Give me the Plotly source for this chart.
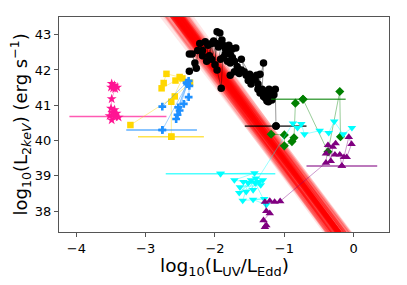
import plotly.graph_objects as go

# ---------------- data ----------------
# red model band: y = slope*(x+2) + y_at_m2
band_slope = [-2.64, -2.58, -2.70, -2.60, -2.68, -2.54, -2.74, -2.64, -2.58, -2.70,
              -2.62, -2.66, -2.56, -2.72, -2.60, -2.68, -2.64, -2.58, -2.72, -2.62,
              -2.50, -2.80, -2.64, -2.66, -2.58, -2.70, -2.62, -2.64, -2.54, -2.76,
              -2.62, -2.66, -2.60, -2.68, -2.64, -2.56, -2.72, -2.64, -2.60, -2.68]
band_y0 = [42.10, 42.04, 42.16, 41.98, 42.22, 41.92, 42.28, 41.86, 42.34, 41.80,
           42.08, 42.12, 42.02, 42.18, 41.96, 42.24, 42.14, 42.06, 41.94, 42.20,
           41.70, 42.44, 42.52, 41.62, 42.40, 41.76, 42.11, 42.00, 41.55, 42.60,
           42.30, 41.90, 42.26, 41.84, 42.36, 41.74, 42.42, 41.66, 42.48, 42.07]
band_opacity = [0.5, 0.5, 0.5, 0.5, 0.45, 0.4, 0.4, 0.35, 0.35, 0.3,
                0.5, 0.5, 0.5, 0.5, 0.5, 0.45, 0.5, 0.5, 0.45, 0.45,
                0.15, 0.15, 0.12, 0.12, 0.2, 0.25, 0.5, 0.5, 0.1, 0.1,
                0.35, 0.45, 0.4, 0.35, 0.25, 0.25, 0.2, 0.2, 0.15, 0.5]

pink_x = [-3.49, -3.45, -3.41, -3.47, -3.50, -3.44, -3.49, -3.50, -3.45, -3.48, -3.42, -3.52, -3.39, -3.49, -3.45]
pink_y = [41.61, 41.56, 41.51, 41.48, 41.51, 41.47, 41.18, 40.91, 40.87, 40.79, 40.77, 40.70, 40.66, 40.58, 40.68]

yellow_x = [-3.22, -2.58, -2.36, -2.51, -2.70, -2.74, -2.77, -2.57, -2.47, -2.63, -2.63]
yellow_y = [40.44, 41.25, 41.64, 41.80, 41.89, 41.63, 41.48, 41.70, 41.76, 41.10, 40.11]

blue_x = [-2.76, -2.41, -2.53, -2.38, -2.37, -2.38, -2.45, -2.51, -2.54, -2.56, -2.40, -2.76]
blue_y = [40.96, 41.64, 40.94, 41.69, 41.55, 41.23, 41.04, 40.85, 40.73, 40.61, 41.60, 40.30]

black_x = [-2.37, -2.33, -2.29, -2.37, -2.27, -2.25, -2.22, -2.18, -2.14, -2.18, -2.10, -2.12,
           -2.05, -2.08, -2.02, -2.05, -1.98, -2.00, -1.97, -1.93, -1.95, -1.90, -1.97, -1.91,
           -1.88, -1.92, -1.85, -1.88, -1.82, -1.85, -1.80, -1.82, -1.78, -1.75, -1.81, -1.70,
           -1.78, -1.72, -1.75, -1.68, -1.72, -1.65, -1.62, -1.78, -1.58, -1.55, -1.62, -1.50,
           -1.52, -1.45, -1.48, -1.42, -1.38, -1.40, -1.35, -1.38, -1.30, -1.32, -1.28, -1.35,
           -1.25, -1.30, -1.22, -1.27, -1.20, -1.23, -1.18, -1.20, -1.15, -1.25, -1.13, -1.12]
black_y = [42.45, 42.45, 42.20, 41.96, 42.05, 42.55, 42.75, 42.40, 42.80, 42.55, 42.70, 42.25,
           42.75, 42.40, 42.82, 42.30, 42.75, 42.15, 43.08, 43.05, 42.65, 42.85, 42.00, 41.48,
           42.70, 42.30, 42.60, 42.35, 42.55, 42.45, 42.70, 42.25, 42.45, 42.60, 42.62, 42.62,
           42.20, 42.25, 42.35, 42.10, 41.95, 41.90, 42.00, 41.85, 41.95, 41.85, 42.30, 41.88,
           41.70, 41.78, 41.60, 41.72, 41.60, 41.85, 41.88, 41.45, 42.20, 41.45, 41.40, 41.35,
           41.30, 41.25, 41.45, 41.20, 41.25, 41.10, 41.15, 41.35, 41.30, 41.12, 41.45, 40.41]

green_x = [-1.19, -1.00, -1.00, -0.89, -0.86, -0.84, -0.73, -0.37, -0.20, -0.19]
green_y = [40.18, 40.16, 39.85, 39.97, 40.08, 41.06, 41.17, 39.68, 41.39, 40.11]

cyan_x = [-1.92, -1.43, -1.72, -1.59, -1.34, -1.64, -1.31, -1.48, -1.45, -1.36, -1.55, -1.41,
          -1.65, -1.52, -1.60, -1.29, -1.45, -1.26, -1.42,
          -0.875, -0.81, -0.755, -0.71, -0.49, -0.36, -0.28, -0.15, -0.025]
cyan_y = [39.06, 39.08, 38.88, 38.83, 38.74, 38.68, 38.88, 38.88, 38.60, 38.83, 38.55, 38.93,
          38.52, 38.80, 38.30, 38.35, 38.33, 38.18, 38.80,
          40.49, 40.36, 40.47, 40.18, 40.28, 40.22, 40.54, 40.18, 40.36]

purple_x = [-1.28, -1.26, -1.30, -1.21, -1.26, -1.28, -1.21, -1.14, -1.06,
            -0.40, -0.37, -0.33, -0.30, -0.26, -0.40, -0.27, -0.20, -0.17, -0.14, -0.07, -0.03, -0.10]
purple_y = [37.55, 37.60, 37.74, 37.94, 38.00, 38.26, 38.29, 38.26, 38.28,
            39.37, 39.87, 39.42, 39.82, 39.92, 39.63, 39.60, 39.60, 39.28, 39.53, 40.10, 39.90, 39.53]

# mean points with horizontal error bars
err_names = ["pink", "yellow", "blue", "black", "green", "cyan", "purple"]
err_x = [-3.45, -2.63, -2.76, -1.12, -0.73, -1.92, -0.17]
err_y = [40.68, 40.11, 40.30, 40.41, 41.17, 39.06, 39.28]
err_minus = [0.65, 0.48, 0.52, 0.45, 0.46, 0.79, 0.51]
err_plus = [0.75, 0.47, 0.50, 0.44, 0.615, 0.79, 0.51]

x_ticks = [-4, -3, -2, -1, 0]
y_ticks = [38, 39, 40, 41, 42, 43]
XMIN, XMAX = -4.25, 0.51
YMIN, YMAX = 37.41, 43.5

x_title = "log<sub>10</sub>(L<sub>UV</sub>/L<sub>Edd</sub>)"
y_title = "log<sub>10</sub>(L<sub>2<i>keV</i></sub>) (erg s<sup>\u22121</sup>)"

# ---------------- figure ----------------
fig = go.Figure()

for m, y0, op in zip(band_slope, band_y0, band_opacity):
    fig.add_trace(go.Scatter(
        x=[XMIN, XMAX], y=[m * (XMIN + 2) + y0, m * (XMAX + 2) + y0],
        mode="lines", line=dict(color="rgba(255,0,0,%.2f)" % op, width=3),
        hoverinfo="skip", showlegend=False))

series = [
    ("pink", pink_x, pink_y, "#ff1493", "star", 7.5),
    ("yellow", yellow_x, yellow_y, "#ffd700", "square", 6.5),
    ("blue", blue_x, blue_y, "#1e90ff", "cross", 6.5),
    ("black", black_x, black_y, "#000000", "circle", 7.5),
    ("green", green_x, green_y, "#008000", "diamond", 7),
    ("cyan", cyan_x, cyan_y, "#00ffff", "triangle-down", 7.5),
    ("purple", purple_x, purple_y, "#800080", "triangle-up", 7.5),
]

def rgba(hexc, a):
    h = hexc.lstrip("#")
    r, g, b = int(h[0:2], 16), int(h[2:4], 16), int(h[4:6], 16)
    return "rgba(%d,%d,%d,%.2f)" % (r, g, b, a)

for name, xs, ys, col, sym, sz in series:
    i = err_names.index(name)
    fig.add_trace(go.Scatter(
        x=[err_x[i]], y=[err_y[i]], mode="markers",
        marker=dict(color=col, symbol=sym, size=sz, line=dict(width=0)),
        error_x=dict(type="data", symmetric=False, array=[err_plus[i]],
                     arrayminus=[err_minus[i]], color=rgba(col, 0.7),
                     thickness=1.6, width=0),
        showlegend=False, hoverinfo="skip"))
    fig.add_trace(go.Scatter(
        x=xs, y=ys, mode="lines+markers",
        line=dict(color=rgba(col, 0.45), width=0.9),
        marker=dict(color=col, symbol=sym, size=sz, line=dict(width=0)),
        showlegend=False, hoverinfo="skip"))

axis_common = dict(showline=True, mirror=True, linecolor="#555555", linewidth=1,
                   ticks="outside", ticklen=4, tickcolor="#555555", tickwidth=1,
                   showgrid=False, zeroline=False, automargin=False,
                   tickfont=dict(family="DejaVu Sans", size=13, color="black"))

fig.update_layout(
    width=407, height=285,
    margin=dict(l=59, r=18, t=17, b=53),
    paper_bgcolor="white", plot_bgcolor="white",
    xaxis=dict(range=[XMIN, XMAX], tickvals=x_ticks,
               ticktext=["\u2212" + str(abs(v)) if v < 0 else str(v) for v in x_ticks],
               **axis_common),
    yaxis=dict(range=[YMIN, YMAX], tickvals=y_ticks, **axis_common),
    annotations=[
        dict(text=x_title, xref="paper", yref="paper", x=0.5, y=0,
             xanchor="center", yanchor="top", yshift=-21, showarrow=False,
             font=dict(family="DejaVu Sans", size=18.5, color="black")),
        dict(text=y_title, xref="paper", yref="paper", x=0, y=0.5,
             xanchor="right", yanchor="middle", xshift=-24, textangle=-90,
             showarrow=False,
             font=dict(family="DejaVu Sans", size=18, color="black")),
    ],
)

fig.write_html("out.html", config={"displayModeBar": False},
               post_script="document.body.style.margin='0px';document.body.style.overflow='hidden';")
